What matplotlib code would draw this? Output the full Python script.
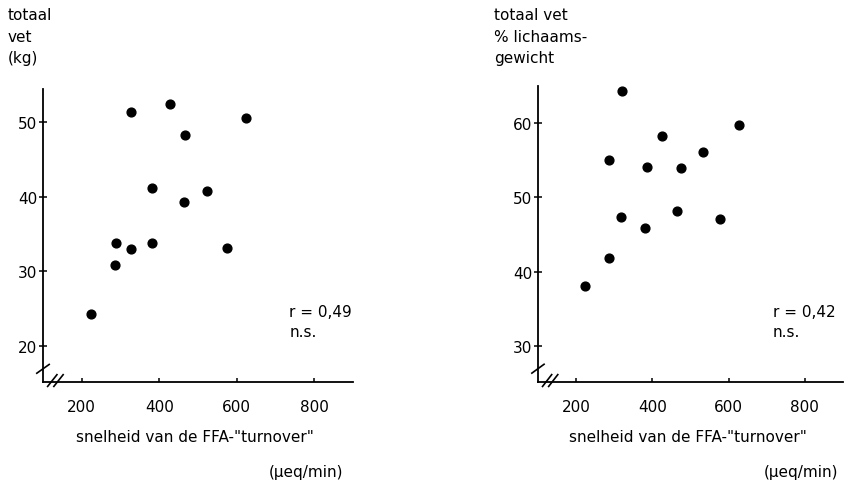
import numpy as np
import matplotlib
matplotlib.use("Agg")
import matplotlib.pyplot as plt

# FFA turnover (ueq/min) vs total fat (kg)
turnover_kg = [326, 429, 623, 467, 381, 524, 464, 288, 381, 328, 576, 286, 224]
fat_kg = [51.3, 52.4, 50.5, 48.2, 41.2, 40.7, 39.3, 33.8, 33.8, 33.0, 33.1, 30.9, 24.3]

# FFA turnover (ueq/min) vs total fat (% body weight)
turnover_pct = [321, 627, 426, 532, 286, 385, 474, 464, 577, 318, 382, 286, 223]
fat_pct = [64.3, 59.7, 58.2, 56.1, 55.0, 54.1, 53.9, 48.2, 47.1, 47.4, 45.9, 41.9, 38.1]

x_ticks = [200, 400, 600, 800]
left_yticks = [20, 30, 40, 50]
right_yticks = [30, 40, 50, 60]

xlabel = 'snelheid van de FFA-"turnover"'
xunit = "(\u00b5eq/min)"

plt.rcParams["font.family"] = ["DejaVu Sans"]
plt.rcParams["font.size"] = 11


def style_axis(ax, ylim, yticks):
    ax.set_xlim(100, 900)
    ax.set_ylim(*ylim)
    ax.set_xticks(x_ticks)
    ax.set_yticks(yticks)
    for s in ["top", "right"]:
        ax.spines[s].set_visible(False)
    for s in ["left", "bottom"]:
        ax.spines[s].set_linewidth(1.3)
    ax.tick_params(axis="y", direction="inout", length=6, width=1.1, pad=1)
    ax.tick_params(axis="x", direction="in", length=3, width=1.1, pad=12)
    # axis break marks near the origin
    kw = dict(transform=ax.transAxes, color="black", lw=1.2, clip_on=False)
    ax.plot([-0.02, 0.02], [0.03, 0.06], **kw)
    ax.plot([0.015, 0.045], [-0.015, 0.025], **kw)
    ax.plot([0.035, 0.065], [-0.015, 0.025], **kw)


def add_stats(ax, x, label):
    ax.text(x, 0.239, label, transform=ax.transAxes, va="center", ha="left",
            fontsize=11)
    ax.text(x, 0.171, "n.s.", transform=ax.transAxes, va="center", ha="left",
            fontsize=11)


fig = plt.figure(figsize=(8.48, 4.85), dpi=100)

ax1 = fig.add_axes([0.0507, 0.2103, 0.3656, 0.604])
ax1.scatter(turnover_kg, fat_kg, s=40, color="black", zorder=3)
style_axis(ax1, (15.2, 54.4), left_yticks)
add_stats(ax1, 0.795, "r = 0,49")

ax2 = fig.add_axes([0.6344, 0.2103, 0.3597, 0.610])
ax2.scatter(turnover_pct, fat_pct, s=40, color="black", zorder=3)
style_axis(ax2, (25.2, 64.9), right_yticks)
add_stats(ax2, 0.77, "r = 0,42")

# y-axis titles
fig.text(8 / 848, 1 - 8 / 485, "totaal\nvet\n(kg)", va="top", ha="left",
         fontsize=11, linespacing=1.55)
fig.text(494 / 848, 1 - 8 / 485, "totaal vet\n% lichaams-\ngewicht",
         va="top", ha="left", fontsize=11, linespacing=1.55)

# x-axis titles
for x_c, x_r in [(195 / 848, 343 / 848), (688 / 848, 838 / 848)]:
    fig.text(x_c, 1 - 438 / 485, xlabel, ha="center", va="center", fontsize=11)
    fig.text(x_r, 1 - 473 / 485, xunit, ha="right", va="center", fontsize=11)

fig.savefig("out.png", dpi=100)
